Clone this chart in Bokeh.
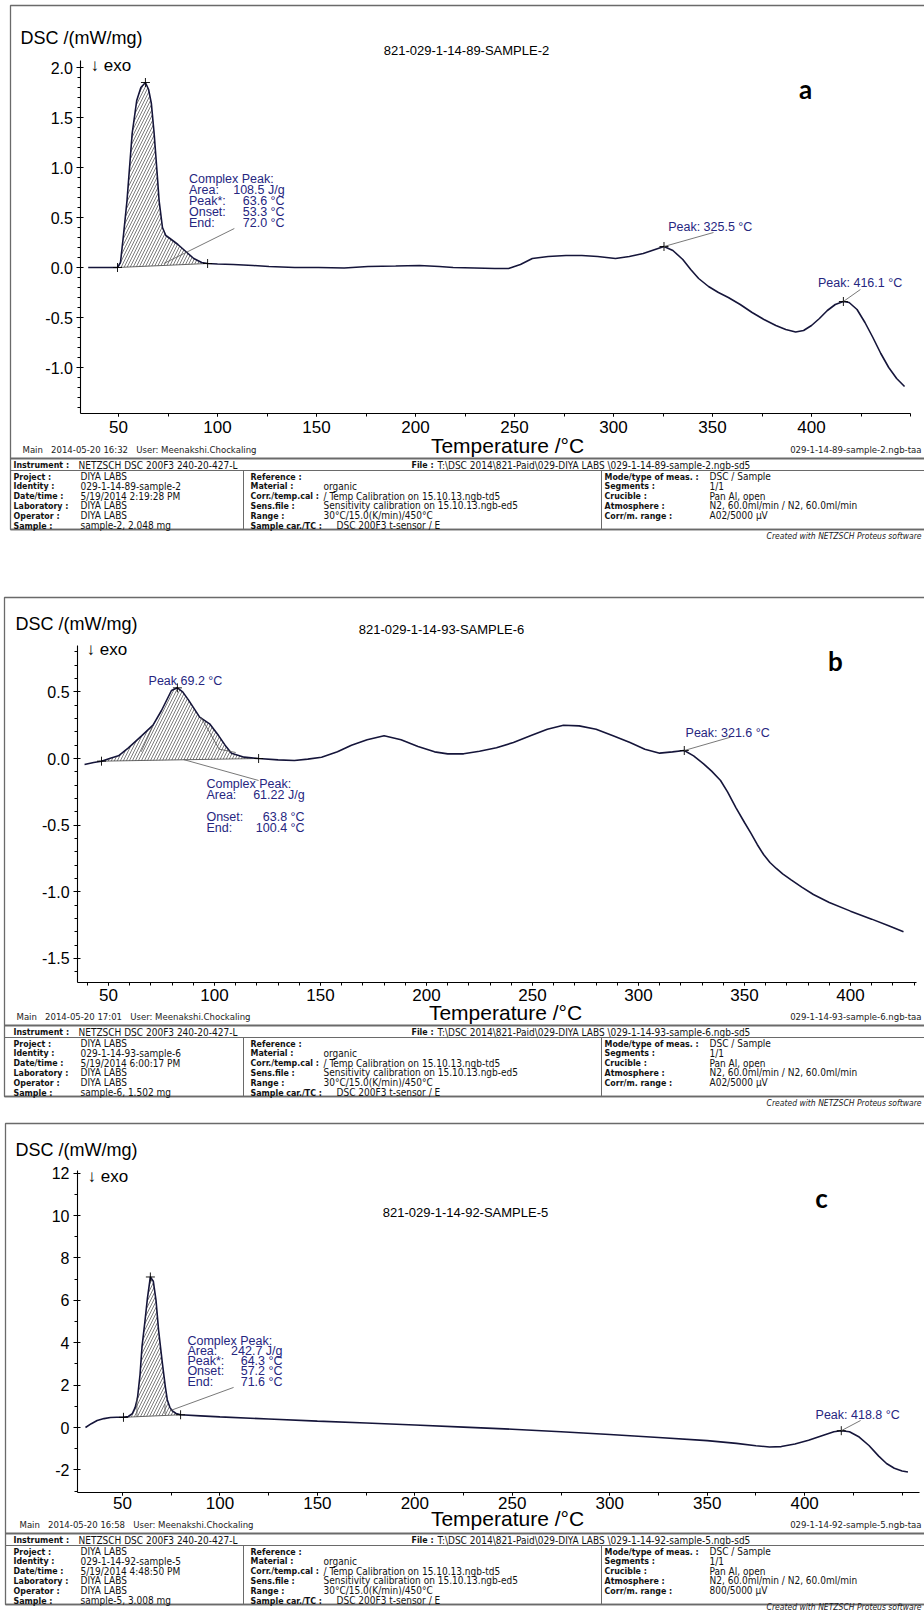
import numpy as np
from bokeh.plotting import figure
from bokeh.models import Range1d, LinearAxis, FixedTicker, NumeralTickFormatter
from bokeh.core.properties import value
from bokeh.embed import file_html
from bokeh.resources import INLINE

# ---------------- measured DSC curves (temperature in °C, DSC in mW/mg) ----------------
# sample 2 (821-029-1-14-89)
temp_a = [34.7, 40.0, 45.0, 49.5, 51.0, 52.6, 54.3, 56.9, 59.2, 61.3,
          63.6, 65.2, 66.6, 68.0, 69.3, 70.5, 72.2, 73.9, 76.0, 80.0,
          84.0, 88.0, 92.0, 95.0, 100.0, 108.0, 118.0, 126.0, 139.0, 151.0,
          164.0, 176.0, 190.0, 202.0, 212.0, 219.0, 230.0, 240.0, 247.0, 253.0,
          259.0, 267.0, 276.0, 284.0, 292.0, 301.0, 308.0, 315.0, 321.0, 325.5,
          330.0, 335.0, 339.0, 343.0, 348.0, 353.0, 358.0, 364.0, 370.0, 376.0,
          382.0, 387.0, 392.0, 396.0, 400.0, 404.0, 408.0, 412.0, 416.1, 419.0,
          423.0, 427.0, 431.0, 435.0, 439.0, 443.0, 447.0]
dsc_a = [0.0, 0.0, 0.0, 0.0, 0.05, 0.34, 0.67, 1.34, 1.67, 1.80,
         1.85, 1.78, 1.64, 1.34, 1.00, 0.67, 0.40, 0.32, 0.29, 0.23,
         0.16, 0.09, 0.05, 0.04, 0.035, 0.03, 0.02, 0.01, 0.0, 0.0,
         -0.005, 0.01, 0.015, 0.02, 0.01, 0.0, -0.005, -0.01, -0.01, 0.03,
         0.09, 0.11, 0.12, 0.12, 0.11, 0.09, 0.11, 0.14, 0.18, 0.21,
         0.17, 0.08, -0.02, -0.11, -0.19, -0.25, -0.30, -0.37, -0.45, -0.52,
         -0.58, -0.62, -0.645, -0.63, -0.58, -0.51, -0.43, -0.37, -0.34, -0.35,
         -0.42, -0.55, -0.70, -0.86, -1.00, -1.11, -1.19]

# sample 6 (821-029-1-14-93)
temp_b = [38.7, 43.0, 46.7, 50.5, 54.7, 59.4, 65.6, 71.0, 75.0, 79.7,
          82.5, 85.0, 87.7, 93.0, 97.7, 102.0, 105.0, 108.0, 114.0, 120.8,
          130.0, 137.7, 144.0, 150.5, 158.0, 164.6, 172.0, 180.0, 188.0, 196.0,
          203.8, 210.0, 217.5, 225.0, 233.0, 241.0, 249.0, 257.0, 264.6, 272.0,
          280.0, 288.0, 296.0, 303.0, 310.0, 316.0, 321.6, 326.0, 330.7, 334.5,
          338.7, 342.0, 346.0, 350.0, 353.0, 356.0, 359.0, 362.0, 365.0, 368.0,
          372.0, 377.0, 382.5, 390.0, 400.0, 410.0, 418.0, 425.0]
dsc_b = [-0.045, -0.03, -0.02, 0.0, 0.02, 0.08, 0.17, 0.25, 0.36, 0.51,
         0.53, 0.50, 0.44, 0.31, 0.26, 0.17, 0.10, 0.04, 0.01, 0.0,
         -0.01, -0.015, -0.005, 0.01, 0.05, 0.10, 0.14, 0.17, 0.14, 0.09,
         0.05, 0.035, 0.035, 0.055, 0.08, 0.12, 0.17, 0.22, 0.25, 0.245,
         0.22, 0.17, 0.12, 0.07, 0.04, 0.05, 0.06, 0.02, -0.04, -0.095,
         -0.165, -0.25, -0.37, -0.48, -0.56, -0.645, -0.72, -0.78, -0.825, -0.865,
         -0.91, -0.965, -1.02, -1.08, -1.145, -1.205, -1.255, -1.30]

# sample 5 (821-029-1-14-92)
temp_c = [31.0, 34.0, 37.0, 40.5, 43.8, 47.0, 50.5, 53.0, 55.0, 56.5,
          57.7, 59.0, 60.0, 61.5, 62.8, 64.3, 65.8, 67.2, 68.5, 70.5,
          72.0, 73.0, 74.3, 75.6, 77.5, 79.8, 90.0, 100.0, 125.0, 150.0,
          175.0, 200.0, 225.0, 250.0, 275.0, 300.0, 325.0, 350.0, 365.0, 375.0,
          382.0, 388.0, 395.0, 402.0, 410.0, 415.0, 418.8, 423.0, 428.0, 433.0,
          438.0, 442.0, 446.0, 450.0, 453.0]
dsc_c = [0.0, 0.18, 0.33, 0.42, 0.47, 0.48, 0.48, 0.52, 0.65, 0.95,
         1.4, 2.5, 3.8, 5.0, 6.1, 7.1, 6.9, 6.0, 4.6, 3.0,
         1.9, 1.3, 0.95, 0.78, 0.66, 0.6, 0.55, 0.5, 0.4, 0.3,
         0.21, 0.12, 0.02, -0.08, -0.2, -0.33, -0.47, -0.62, -0.75, -0.86,
         -0.92, -0.9, -0.78, -0.6, -0.35, -0.2, -0.15, -0.2, -0.45, -0.85,
         -1.35, -1.7, -1.92, -2.05, -2.1]

# integration limits of the complex peaks (°C) and evaluated peaks (°C)
limits_a = [49.5, 95.0]
limits_b = [46.7, 120.8]
limits_c = [50.5, 79.8]
peaks_a = [325.5, 416.1]
peaks_b = [321.6]
peaks_c = [418.8]

complex_a = [("Complex Peak:", ""), ("Area:", "108.5 J/g"), ("Peak*:", "63.6 °C"),
             ("Onset:", "53.3 °C"), ("End:", "72.0 °C")]
complex_b = [("Complex Peak:", ""), ("Area:", "61.22 J/g"), ("", ""),
             ("Onset:", "63.8 °C"), ("End:", "100.4 °C")]
complex_c = [("Complex Peak:", ""), ("Area:", "242.7 J/g"), ("Peak*:", "64.3 °C"),
             ("Onset:", "57.2 °C"), ("End:", "71.6 °C")]

# axis ticks
x_ticks = [50, 100, 150, 200, 250, 300, 350, 400]
y_ticks_a = [-1.0, -0.5, 0.0, 0.5, 1.0, 1.5, 2.0]
y_ticks_b = [-1.5, -1.0, -0.5, 0.0, 0.5]
y_ticks_c = [-2, 0, 2, 4, 6, 8, 10, 12]

titles = ["821-029-1-14-89-SAMPLE-2", "821-029-1-14-93-SAMPLE-6", "821-029-1-14-92-SAMPLE-5"]
letters = ["a", "b", "c"]
SP3 = "\u00a0\u00a0\u00a0"
footer_left = [f"Main{SP3}2014-05-20 16:32{SP3}User: Meenakshi.Chockaling",
               f"Main{SP3}2014-05-20 17:01{SP3}User: Meenakshi.Chockaling",
               f"Main{SP3}2014-05-20 16:58{SP3}User: Meenakshi.Chockaling"]
footer_right = ["029-1-14-89-sample-2.ngb-taa", "029-1-14-93-sample-6.ngb-taa",
                "029-1-14-92-sample-5.ngb-taa"]
instrument = "NETZSCH DSC 200F3 240-20-427-L"
file_paths = ["T:\\DSC 2014\\821-Paid\\029-DIYA LABS \\029-1-14-89-sample-2.ngb-sd5",
              "T:\\DSC 2014\\821-Paid\\029-DIYA LABS \\029-1-14-93-sample-6.ngb-sd5",
              "T:\\DSC 2014\\821-Paid\\029-DIYA LABS \\029-1-14-92-sample-5.ngb-sd5"]
info_keys_left = ["Project :", "Identity :", "Date/time :", "Laboratory :", "Operator :", "Sample :"]
info_keys_mid = ["Reference :", "Material :", "Corr./temp.cal :", "Sens.file :", "Range :", "Sample car./TC :"]
info_keys_right = ["Mode/type of meas. :", "Segments :", "Crucible :", "Atmosphere :", "Corr/m. range :"]
info_left = [
    ["DIYA LABS", "029-1-14-89-sample-2", "5/19/2014 2:19:28 PM", "DIYA LABS", "DIYA LABS", "sample-2, 2.048 mg"],
    ["DIYA LABS", "029-1-14-93-sample-6", "5/19/2014 6:00:17 PM", "DIYA LABS", "DIYA LABS", "sample-6, 1.502 mg"],
    ["DIYA LABS", "029-1-14-92-sample-5", "5/19/2014 4:48:50 PM", "DIYA LABS", "DIYA LABS", "sample-5, 3.008 mg"],
]
info_mid = ["", "organic", "/ Temp Calibration on 15.10.13.ngb-td5",
            "Sensitivity calibration on 15.10.13.ngb-ed5", "30°C/15.0(K/min)/450°C",
            "DSC 200F3 t-sensor / E"]
info_right = [
    ["DSC / Sample", "1/1", "Pan Al, open", "N2, 60.0ml/min / N2, 60.0ml/min", "A02/5000 µV"],
    ["DSC / Sample", "1/1", "Pan Al, open", "N2, 60.0ml/min / N2, 60.0ml/min", "A02/5000 µV"],
    ["DSC / Sample", "1/1", "Pan Al, open", "N2, 60.0ml/min / N2, 60.0ml/min", "800/5000 µV"],
]

# ---------------- page geometry ----------------
W, H = 924, 1611
SANS = "Liberation Sans"
NARROW = "Liberation Sans Narrow, DejaVu Sans Condensed, Liberation Sans"
CURVE = "#15153a"
NOTE = "#26267f"
RULE = "#6a6a6a"
NOTE_SIZE = "12.5px"

# each panel: pixel of 50 °C, px per °C, pixel of 0 mW/mg, px per mW/mg, axis extents,
# frame box and the footer/table line
LAYOUT = {
    "a": dict(x0=118, kx=1.98, y0=267, ky=100.0, t_lo=31.0, t_hi=450.0, v_lo=-1.46, v_hi=2.07,
              frame_left=10, frame_top=5, main_y=449, main_x=22, title_x=466, title_y=50,
              letter_x=805, letter_y=88, dsc_x=20, dsc_y=37, exo_x=90, exo_y=65,
              y_minor=0.1, x_minor=25, fmt="0.0", tick_standoff=4, xlab=(507, 445),
              note=(85.6, 133.9, 0.89, 11.2), note_lead=(108.5, 0.39, 72.9, 0.04)),
    "b": dict(x0=108, kx=2.12, y0=758, ky=133.3, t_lo=35.4, t_hi=431.0, v_lo=-1.68, v_hi=0.85,
              frame_left=4, frame_top=597, main_y=1016, main_x=16, title_x=441, title_y=629,
              letter_x=835, letter_y=660, dsc_x=15, dsc_y=623, exo_x=86, exo_y=649,
              y_minor=0.1, x_minor=10, fmt="0.0", tick_standoff=4, xlab=(505, 1012),
              note=(96.2, 142.5, -0.195, 10.8), note_lead=(85.4, -0.008, 120.8, -0.165)),
    "c": dict(x0=122, kx=1.949, y0=1427, ky=21.2, t_lo=26.9, t_hi=459.0, v_lo=-3.08, v_hi=12.12,
              frame_left=5, frame_top=1123, main_y=1524, main_x=19, title_x=465, title_y=1212,
              letter_x=821, letter_y=1197, dsc_x=15, dsc_y=1149, exo_x=87, exo_y=1176,
              y_minor=1.0, x_minor=25, fmt="0", tick_standoff=1, xlab=(507, 1518),
              note=(83.3, 132.1, 4.10, 10.3), note_lead=(107.0, 1.89, 74.6, 0.80)),
}


def t_at(px, L):
    return 50.0 + (px - L["x0"]) / L["kx"]


def v_at(py, L):
    return (L["y0"] - py) / L["ky"]


p = figure(width=W, height=H, x_range=Range1d(0, W), y_range=Range1d(H, 0),
           x_axis_type=None, y_axis_type=None, output_backend="svg",
           toolbar_location=None, min_border=0)
p.outline_line_color = None
p.background_fill_color = "white"
p.border_fill_color = "white"

for n, L in LAYOUT.items():
    p.extra_x_ranges[n] = Range1d(t_at(0, L), t_at(W, L))
    p.extra_y_ranges[n] = Range1d(v_at(H, L), v_at(0, L))


def style_axis(ax, size):
    ax.axis_line_color = "black"
    ax.axis_line_width = 1.1
    ax.major_tick_line_color = "black"
    ax.minor_tick_line_color = "black"
    ax.major_tick_in = 3
    ax.major_tick_out = 4
    ax.minor_tick_in = 0
    ax.minor_tick_out = 3
    ax.major_label_text_font = SANS
    ax.major_label_text_font_size = size
    ax.major_label_text_color = "black"
    ax.major_label_standoff = 4


def minor_list(lo, hi, step):
    k0 = np.ceil(lo / step)
    vals = np.arange(k0, np.floor(hi / step) + 1) * step
    return [float(round(v, 6)) for v in vals]


def draw_chart(n, L, temp, dsc, y_ticks, limits, peak_list, rows):
    r = dict(x_range_name=n, y_range_name=n)

    # axes
    yax = LinearAxis(fixed_location=L["t_lo"], bounds=(L["v_lo"], L["v_hi"]),
                     ticker=FixedTicker(ticks=y_ticks, minor_ticks=minor_list(L["v_lo"], L["v_hi"], L["y_minor"])),
                     formatter=NumeralTickFormatter(format=L["fmt"]), **r)
    style_axis(yax, "16px")
    p.add_layout(yax, "left")
    xax = LinearAxis(fixed_location=L["v_lo"], bounds=(L["t_lo"], L["t_hi"]),
                     ticker=FixedTicker(ticks=x_ticks, minor_ticks=minor_list(L["t_lo"], L["t_hi"], L["x_minor"])),
                     **r)
    style_axis(xax, "17px")
    xax.major_tick_in = 0
    xax.major_tick_out = 3
    xax.major_label_standoff = L["tick_standoff"]
    p.add_layout(xax, "below")
    p.text([L["xlab"][0]], [L["xlab"][1]], text=["Temperature /°C"], text_font=value(SANS),
           text_font_size="21px", text_color="black", text_align="center", text_baseline="middle")

    T = np.asarray(temp)
    v = np.asarray(dsc)
    t0, t1 = limits
    m = (T >= t0) & (T <= t1)
    # hatched integration area, closed along the straight baseline
    p.patch(list(T[m]), list(v[m]), fill_color="white", fill_alpha=0.0,
            hatch_pattern="/", hatch_color="#444444", hatch_scale=6, hatch_weight=0.7,
            line_color=None, **r)
    b0, b1 = np.interp([t0, t1], T, v)
    p.line([t0, t1], [b0, b1], line_color="#555555", line_width=0.9, **r)

    p.line(temp, dsc, line_color=CURVE, line_width=1.6, **r)

    # integration limits, main peak and evaluated peaks
    i_max = int(np.argmax(np.where(m, v, -np.inf)))
    px = [t0, t1, float(T[i_max])] + list(peak_list)
    py = [b0, b1, float(v[i_max])] + list(np.interp(peak_list, T, v))
    p.scatter(px, py, marker="cross", size=9, line_color="black", line_width=0.9, **r)

    # complex peak text block
    tl, tr, vt, step = L["note"]
    k = len(rows)
    offs = [i * step for i in range(k)]
    p.text([tl] * k, [vt] * k, text=[a for a, _ in rows], y_offset=offs,
           text_font=value(SANS), text_font_size=NOTE_SIZE, text_color=NOTE,
           text_align="left", text_baseline="middle", **r)
    p.text([tr] * k, [vt] * k, text=[b for _, b in rows], y_offset=offs,
           text_font=value(SANS), text_font_size=NOTE_SIZE, text_color=NOTE,
           text_align="right", text_baseline="middle", **r)
    lx0, ly0, lx1, ly1 = L["note_lead"]
    p.segment([lx0], [ly0], [lx1], [ly1], line_color="#555555", line_width=0.8, **r)


draw_chart("a", LAYOUT["a"], temp_a, dsc_a, y_ticks_a, limits_a, peaks_a, complex_a)
draw_chart("b", LAYOUT["b"], temp_b, dsc_b, y_ticks_b, limits_b, peaks_b, complex_b)
draw_chart("c", LAYOUT["c"], temp_c, dsc_c, y_ticks_c, limits_c, peaks_c, complex_c)


def peak_label(n, temp, dsc, t_peak, t_text, v_text, t_lead, v_lead, prefix="Peak: "):
    r = dict(x_range_name=n, y_range_name=n)
    p.text([t_text], [v_text], text=[f"{prefix}{t_peak} °C"], text_font=value(SANS),
           text_font_size=NOTE_SIZE, text_color=NOTE, text_align="left",
           text_baseline="middle", **r)
    v_pk = float(np.interp(t_peak, temp, dsc))
    p.segment([t_lead], [v_lead], [t_peak], [v_pk], line_color="#555555", line_width=0.8, **r)


peak_label("a", temp_a, dsc_a, peaks_a[0], 327.6, 0.41, 350.5, 0.35)
peak_label("a", temp_a, dsc_a, peaks_a[1], 403.3, -0.15, 424.7, -0.22)
peak_label("b", temp_b, dsc_b, peaks_b[0], 322.2, 0.195, 343.4, 0.16)
peak_label("c", temp_c, dsc_c, peaks_c[0], 405.6, 0.61, 428.7, 0.33)

# peak temperature reported for the first event of sample 6
p.text([68.9], [0.585], text=["Peak 69.2 °C"], text_font=value(SANS), text_font_size=NOTE_SIZE,
       text_color=NOTE, text_align="left", text_baseline="middle", x_range_name="b", y_range_name="b")

# partial-area dividers inside the complex peaks
p.multi_line([[71.0, 65.4], [93.6, 102.2, 110.0]], [[0.245, 0.05], [0.31, 0.07, 0.045]],
             line_color="#555555", line_width=0.8, x_range_name="b", y_range_name="b")
p.multi_line([[57.4, 57.4], [71.8, 71.8]], [[1.41, 0.50], [1.10, 0.63]],
             line_color="#555555", line_width=0.8, x_range_name="c", y_range_name="c")

# ---------------- panel furniture (page pixels) ----------------
for i, n in enumerate(["a", "b", "c"]):
    L = LAYOUT[n]
    my = L["main_y"]
    bottom = my + 80
    # outer frame
    p.quad(left=[L["frame_left"]], right=[W + 10], top=[L["frame_top"]], bottom=[bottom],
           fill_color=None, line_color=RULE, line_width=1.3)
    p.text([L["dsc_x"]], [L["dsc_y"]], text=["DSC /(mW/mg)"], text_font=value(SANS),
           text_font_size="18px", text_color="black", text_baseline="middle")
    p.text([L["exo_x"]], [L["exo_y"]], text=["\u2193 exo"], text_font=value(SANS),
           text_font_size="17px", text_color="black", text_baseline="middle")
    p.text([L["title_x"]], [L["title_y"]], text=[titles[i]], text_font=value(SANS),
           text_font_size="13px", text_color="black", text_align="center", text_baseline="middle")
    p.text([L["letter_x"]], [L["letter_y"]], text=[letters[i]], text_font=value("Lato"),
           text_font_style="bold", text_font_size="26px", text_color="black",
           text_align="center", text_baseline="middle")
    p.text([L["main_x"]], [my], text=[footer_left[i]], text_font=value(NARROW),
           text_font_size="9.5px", text_color="#222222", text_baseline="middle")
    p.text([921], [my], text=[footer_right[i]], text_font=value(NARROW),
           text_font_size="9.5px", text_color="#222222", text_align="right", text_baseline="middle")

    # information table
    fl = L["frame_left"]
    p.segment([fl, fl, fl, 243, 601], [my + 9, my + 21, bottom, my + 21, my + 21],
              [W + 10, W + 10, W + 10, 243, 601], [my + 9, my + 21, bottom, bottom, bottom],
              line_color=RULE, line_width=[2.0, 1.0, 1.3, 1.0, 1.0])
    row_instr = my + 15.5
    tab = dict(text_font=value(NARROW), text_font_size="10px", text_color="#111111",
               text_baseline="middle")
    key = dict(text_font=value(NARROW), text_font_size="8.8px", text_color="#111111",
               text_baseline="middle", text_font_style="bold")
    p.text([13, 411], [row_instr, row_instr], text=["Instrument :", "File :"], **key)
    p.text([78, 437], [row_instr, row_instr], text=[instrument, file_paths[i]], **tab)
    rows_y = [my + 27 + 9.8 * j for j in range(6)]
    p.text([13] * 6, rows_y, text=info_keys_left, **key)
    p.text([80] * 6, rows_y, text=info_left[i], **tab)
    p.text([250] * 6, rows_y, text=info_keys_mid, **key)
    p.text([323] * 5 + [336], rows_y, text=info_mid, **tab)
    p.text([604] * 5, rows_y[:5], text=info_keys_right, **key)
    p.text([709] * 5, rows_y[:5], text=info_right[i], **tab)
    p.text([921], [min(my + 86, H - 5)], text=["Created with NETZSCH Proteus software"],
           text_font=value(NARROW), text_font_size="8.5px", text_font_style="italic",
           text_color="#222222", text_align="right", text_baseline="middle")

html = file_html(p, INLINE, title="DSC thermograms")
open("out.html", "w").write(html)
